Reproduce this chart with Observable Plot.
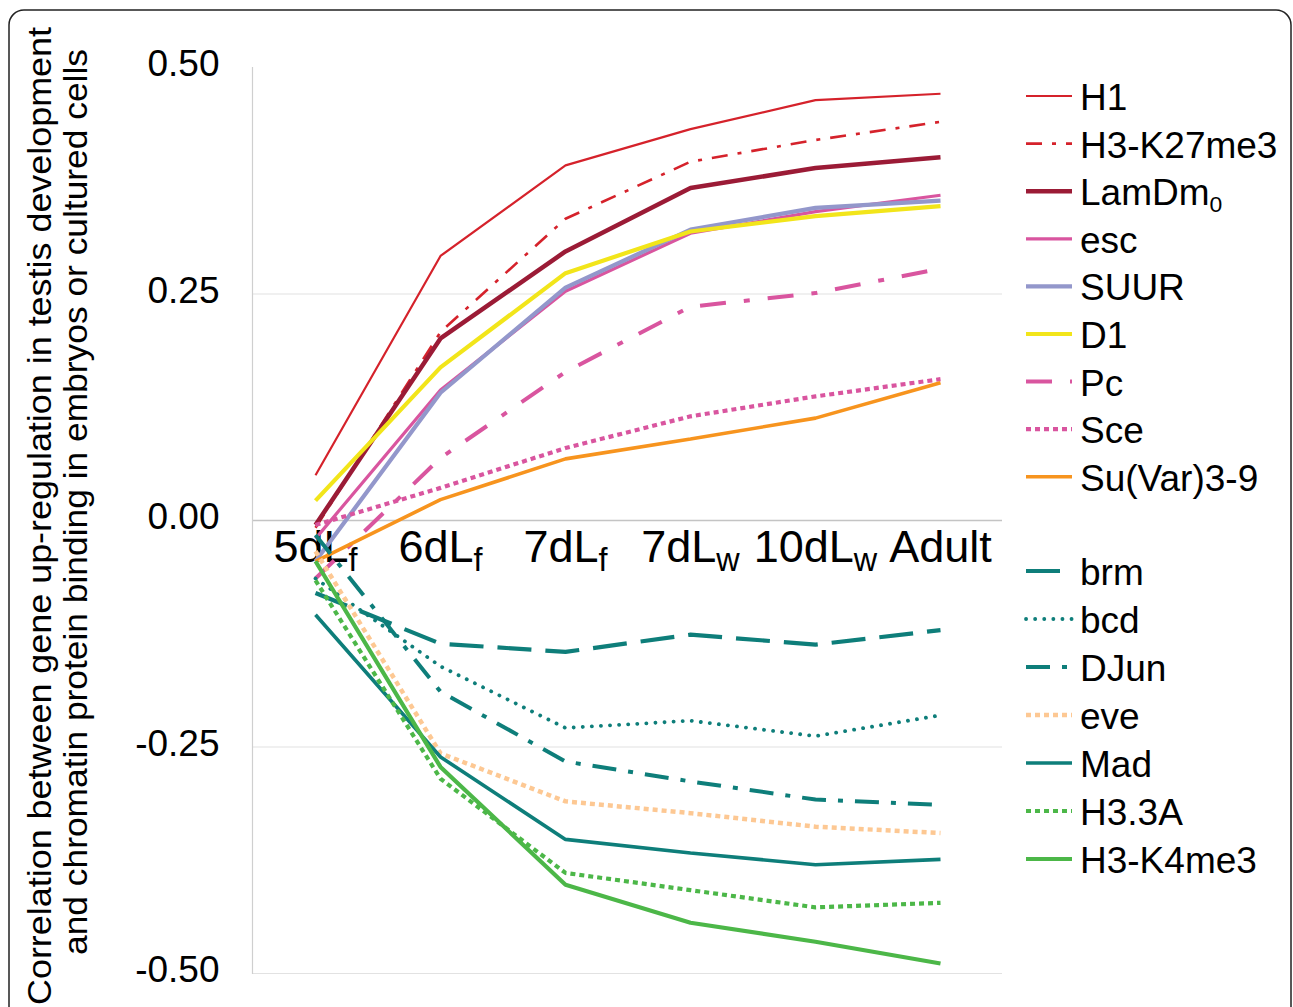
<!DOCTYPE html>
<html><head><meta charset="utf-8">
<script src="https://cdn.jsdelivr.net/npm/d3@7"></script>
<script src="https://cdn.jsdelivr.net/npm/@observablehq/plot@0.6"></script>
<style>
body{margin:0;background:#fff;}
#wrap{position:relative;width:1293px;height:1007px;overflow:hidden;font-family:"Liberation Sans",Arial,sans-serif;background:#fff;}
#wrap svg{position:absolute;left:0;top:0;}
</style></head><body><div id="wrap"></div>
<script>
// ---- data ----
const stages = ["5dL_f", "6dL_f", "7dL_f", "7dL_w", "10dL_w", "Adult"];
const yTicks = [-0.5, -0.25, 0, 0.25, 0.5];
const yLabelLines = [
  "Correlation between gene up-regulation in testis development",
  "and chromatin protein binding in embryos or cultured cells"
];
const positiveNames = ["H1", "H3-K27me3", "LamDm_0", "esc", "SUUR", "D1", "Pc", "Sce", "Su(Var)3-9"];
const negativeNames = ["brm", "bcd", "DJun", "eve", "Mad", "H3.3A", "H3-K4me3"];

const H1       = [0.050, 0.292, 0.392, 0.432, 0.464, 0.471];
const H3K27me3 = [-0.008, 0.208, 0.333, 0.396, 0.420, 0.440];
const LamDm0   = [-0.005, 0.201, 0.297, 0.367, 0.389, 0.401];
const esc      = [-0.020, 0.144, 0.253, 0.317, 0.341, 0.359];
const SUUR     = [-0.045, 0.141, 0.257, 0.321, 0.345, 0.353];
const D1       = [0.022, 0.169, 0.273, 0.319, 0.336, 0.347];
const Pc       = [-0.064, 0.069, 0.164, 0.236, 0.251, 0.278];
const Sce      = [-0.005, 0.036, 0.080, 0.115, 0.137, 0.156];
const SuVar39  = [-0.045, 0.023, 0.068, 0.090, 0.113, 0.152];
const brm      = [-0.080, -0.136, -0.145, -0.126, -0.137, -0.121];
const bcd      = [-0.064, -0.161, -0.229, -0.221, -0.238, -0.215];
const DJun     = [-0.016, -0.189, -0.266, -0.288, -0.308, -0.314];
const eve      = [-0.034, -0.257, -0.310, -0.323, -0.338, -0.345];
const Mad      = [-0.104, -0.261, -0.352, -0.367, -0.380, -0.374];
const H33A     = [-0.066, -0.285, -0.389, -0.408, -0.427, -0.422];
const H3K4me3  = [-0.045, -0.272, -0.402, -0.444, -0.465, -0.489];

const seriesValues = [H1, H3K27me3, LamDm0, esc, SUUR, D1, Pc, Sce, SuVar39,
                      brm, bcd, DJun, eve, Mad, H33A, H3K4me3];
const seriesNames = [...positiveNames, ...negativeNames];

// ---- styles ----
const red = "#d5222b", darkRed = "#9b1b36", pink = "#d9559f", lav = "#9397cb",
      yellow = "#f2e51a", orange = "#f7941e", teal = "#0e7e7a", peach = "#fdc893", green = "#4cb748";
const styles = {
  "H1":         {stroke: red, w: 2.2, dash: null, cap: "butt"},
  "H3-K27me3":  {stroke: red, w: 2.6, dash: "16,10,4,10", cap: "butt"},
  "LamDm_0":    {stroke: darkRed, w: 4.5, dash: null, cap: "butt"},
  "esc":        {stroke: pink, w: 3.2, dash: null, cap: "butt"},
  "SUUR":       {stroke: lav, w: 4.2, dash: null, cap: "butt"},
  "D1":         {stroke: yellow, w: 4.2, dash: null, cap: "butt"},
  "Pc":         {stroke: pink, w: 4, dash: "26,18,6,18", cap: "butt"},
  "Sce":        {stroke: pink, w: 4.2, dash: "5,4", cap: "butt"},
  "Su(Var)3-9": {stroke: orange, w: 3.6, dash: null, cap: "butt"},
  "brm":        {stroke: teal, w: 4.2, dash: "34,14", cap: "butt"},
  "bcd":        {stroke: teal, w: 3.8, dash: "0.1,9", cap: "round"},
  "DJun":       {stroke: teal, w: 4, dash: "24,12,5,12", cap: "butt"},
  "eve":        {stroke: peach, w: 4.5, dash: "5,4", cap: "butt"},
  "Mad":        {stroke: teal, w: 3.6, dash: null, cap: "butt"},
  "H3.3A":      {stroke: green, w: 4.2, dash: "5,4", cap: "butt"},
  "H3-K4me3":   {stroke: green, w: 4.2, dash: null, cap: "butt"}
};

const rows = seriesNames.flatMap((name, k) =>
  seriesValues[k].map((v, i) => ({series: name, stage: stages[i], value: v})));

// ---- chart ----
const W = 1293, H = 1007;
const lineMarks = seriesNames.map(name => {
  const s = styles[name];
  return Plot.line(rows.filter(d => d.series === name), {
    x: "stage", y: "value", stroke: s.stroke, strokeWidth: s.w,
    strokeDasharray: s.dash ?? undefined, strokeLinecap: s.cap, strokeLinejoin: "miter", curve: "linear"
  });
});

const chart = Plot.plot({
  width: W, height: H,
  marginLeft: 252, marginRight: 291, marginTop: 67, marginBottom: 34,
  style: {fontFamily: "Liberation Sans, Arial, sans-serif", background: "transparent"},
  x: {type: "point", domain: stages, padding: 0.5, axis: null},
  y: {domain: [-0.5, 0.5], axis: null},
  marks: [
    Plot.ruleY([0.25, -0.25, -0.5], {stroke: "#e2e2e2", strokeWidth: 1.2}),
    Plot.ruleY([0], {stroke: "#c4c4c4", strokeWidth: 1.6}),
    Plot.frame({anchor: "left", stroke: "#cfcfcf", strokeWidth: 1.2}),
    Plot.axisY({ticks: yTicks, tickFormat: d => d.toFixed(2), tickSize: 0, tickPadding: 33,
                fontSize: 37, fill: "#000", label: null, dy: -3}),
    Plot.text(stages, {x: d => d, y: d => 0, text: d => d, dy: 27, fontSize: 45, fill: "#000"}),
    ...lineMarks
  ]
});

const wrap = document.getElementById("wrap");
wrap.appendChild(chart);

// subscripts: "abc_x" -> abc + subscript x
function applySub(el, ratio, shift) {
  const t = el.textContent;
  if (!t.includes("_")) return;
  const [main, sub] = t.split("_");
  el.textContent = "";
  const ns = "http://www.w3.org/2000/svg";
  const a = document.createElementNS(ns, "tspan"); a.textContent = main; el.appendChild(a);
  const b = document.createElementNS(ns, "tspan"); b.textContent = sub;
  b.setAttribute("font-size", ratio + "em"); b.setAttribute("dy", shift + "em");
  el.appendChild(b);
}
chart.querySelectorAll("text").forEach(el => applySub(el, 0.72, 0.28));

// ---- overlay: legend, axis title, frame ----
const ov = d3.select(wrap).append("svg")
  .attr("width", W).attr("height", H)
  .style("font-family", "Liberation Sans, Arial, sans-serif");

ov.append("rect").attr("x", 9).attr("y", 10).attr("width", 1282).attr("height", 1030)
  .attr("rx", 15).attr("fill", "none").attr("stroke", "#222").attr("stroke-width", 1.5);

const titleG = ov.append("g");
[[51, 516, 978], [87, 502, 906]].forEach(([x, y, len], i) => {
  titleG.append("text")
    .attr("transform", `translate(${x},${y}) rotate(-90)`)
    .attr("text-anchor", "middle").attr("font-size", 34)
    .attr("textLength", len).attr("lengthAdjust", "spacingAndGlyphs")
    .attr("fill", "#000")
    .text(yLabelLines[i]);
});

function legendGroup(names, y0, step) {
  names.forEach((name, i) => {
    const s = styles[name];
    const y = y0 + i * step;
    ov.append("line").attr("x1", 1026).attr("x2", 1072).attr("y1", y).attr("y2", y)
      .attr("stroke", s.stroke).attr("stroke-width", s.w)
      .attr("stroke-dasharray", s.dash).attr("stroke-linecap", s.cap);
    const t = ov.append("text").attr("x", 1080).attr("y", y + 14)
      .attr("font-size", 37).attr("fill", "#000").text(name);
    applySub(t.node(), 0.62, 0.3);
  });
}
legendGroup(positiveNames, 96, 47.6);
legendGroup(negativeNames, 571, 48);
</script>
</body></html>
